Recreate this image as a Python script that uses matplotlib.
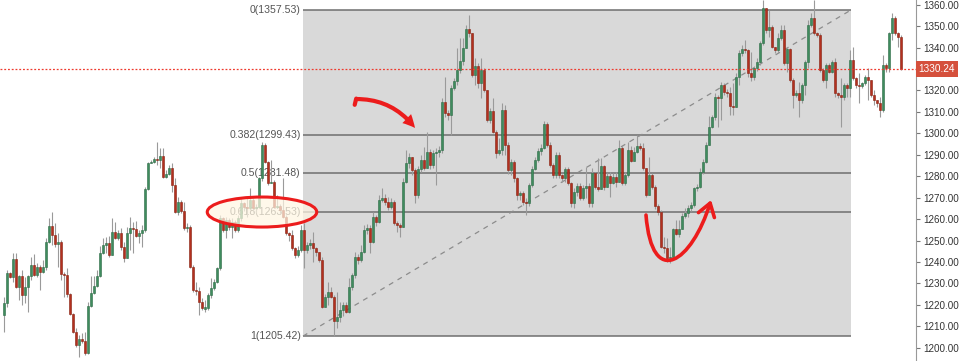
import numpy as np
import matplotlib
matplotlib.use("Agg")
import matplotlib.pyplot as plt
from matplotlib.patches import Ellipse, Rectangle, FancyArrowPatch
from matplotlib.path import Path
from matplotlib.ticker import FuncFormatter

plt.rcParams['font.family'] = ['Liberation Sans', 'DejaVu Sans']

# Candle data (open of each bar = close of previous bar)
first_open = 1215.3
closes = [
    1220.7, 1235.0, 1233.2, 1241.2, 1228.2, 1233.5, 1224.6, 1228.5, 1233.5, 1238.6,
    1233.9, 1237.5, 1235.5, 1237.5, 1249.5, 1256.8, 1252.6, 1248.4, 1249.5, 1234.4,
    1233.9, 1225.1, 1215.7, 1207.5, 1201.3, 1203.9, 1203.3, 1197.4, 1219.5, 1225.7,
    1228.8, 1233.5, 1244.0, 1247.9, 1249.0, 1243.3, 1254.1, 1251.0, 1253.4, 1247.1,
    1241.7, 1253.4, 1255.7, 1255.2, 1252.1, 1253.7, 1254.9, 1273.9, 1286.3, 1286.8,
    1288.0, 1287.6, 1289.6, 1279.8, 1280.9, 1284.0, 1275.9, 1263.5, 1268.1, 1263.8,
    1255.7, 1256.3, 1237.8, 1226.9, 1226.5, 1221.5, 1218.4, 1218.7, 1224.6, 1227.7,
    1230.8, 1237.0, 1260.4, 1254.9, 1259.6, 1256.5, 1258.5, 1254.9, 1260.4, 1267.4,
    1265.8, 1265.3, 1268.9, 1265.0, 1265.8, 1279.0, 1294.6, 1286.8, 1276.7, 1277.5,
    1265.8, 1266.3, 1264.2, 1261.1, 1253.4, 1252.6, 1246.4, 1243.2, 1245.6, 1254.9,
    1245.6, 1247.9, 1248.7, 1246.4, 1244.8, 1240.9, 1219.2, 1223.8, 1226.2, 1223.8,
    1212.5, 1214.5, 1217.6, 1219.9, 1216.8, 1228.5, 1233.9, 1242.5, 1240.9, 1244.8,
    1254.9, 1255.7, 1249.5, 1261.1, 1258.8, 1268.9, 1269.7, 1268.1, 1265.8, 1268.1,
    1258.0, 1257.2, 1256.5, 1277.5, 1286.0, 1289.1, 1282.9, 1271.2, 1283.4, 1287.6,
    1283.7, 1291.5, 1285.2, 1290.7, 1291.5, 1292.2, 1314.8, 1309.3, 1308.6, 1321.0,
    1324.5, 1329.5, 1333.7, 1339.7, 1348.7, 1346.6, 1327.2, 1331.6, 1323.3, 1329.5,
    1320.2, 1306.2, 1310.4, 1300.8, 1290.7, 1292.2, 1310.9, 1294.6, 1282.9, 1286.8,
    1279.0, 1271.2, 1272.0, 1268.1, 1267.4, 1275.9, 1283.4, 1287.6, 1291.8, 1293.3,
    1304.2, 1294.6, 1285.2, 1280.6, 1289.9, 1280.6, 1279.0, 1283.4, 1276.7, 1267.4,
    1272.8, 1275.6, 1270.0, 1274.7, 1275.6, 1267.4, 1281.3, 1275.1, 1274.0, 1284.9,
    1275.1, 1280.1, 1277.0, 1279.8, 1277.5, 1293.0, 1276.7, 1280.6, 1292.2, 1287.2,
    1291.4, 1294.1, 1293.0, 1283.7, 1271.2, 1280.6, 1275.1, 1266.1, 1263.5, 1247.1,
    1246.4, 1241.7, 1242.5, 1255.2, 1253.0, 1255.2, 1261.4, 1262.7, 1265.0, 1266.6,
    1274.4, 1275.1, 1282.1, 1286.8, 1294.6, 1302.8, 1307.5, 1317.1, 1316.3, 1322.5,
    1319.4, 1318.7, 1312.8, 1312.4, 1326.4, 1337.3, 1339.2, 1338.9, 1328.0, 1326.4,
    1330.3, 1333.4, 1342.0, 1358.3, 1348.2, 1349.8, 1340.4, 1338.9, 1344.3, 1348.2,
    1332.7, 1339.2, 1324.9, 1317.9, 1318.7, 1315.5, 1322.5, 1333.4, 1350.5, 1353.6,
    1346.6, 1345.9, 1329.5, 1324.9, 1331.9, 1328.8, 1333.4, 1318.7, 1317.9, 1317.1,
    1322.5, 1321.0, 1334.2, 1325.7, 1322.5, 1322.1, 1323.3, 1326.1, 1324.9, 1317.9,
    1315.5, 1314.3, 1310.9, 1331.9, 1330.3, 1346.6, 1353.6, 1346.6, 1344.8, 1330.24,
]
highs = [
    1223.8, 1236.2, 1235.5, 1244.3, 1244.3, 1233.9, 1236.2, 1233.2, 1233.9, 1242.5,
    1243.7, 1239.4, 1238.6, 1240.9, 1251.0, 1260.4, 1263.5, 1258.3, 1253.4, 1250.2,
    1235.5, 1237.0, 1225.4, 1216.0, 1209.1, 1206.0, 1207.0, 1207.5, 1221.5, 1233.5,
    1233.5, 1236.2, 1247.5, 1251.0, 1251.5, 1252.1, 1260.4, 1258.8, 1254.9, 1255.7,
    1249.5, 1256.5, 1261.1, 1258.8, 1259.3, 1254.9, 1257.2, 1275.1, 1286.8, 1287.6,
    1289.1, 1296.1, 1293.0, 1293.0, 1282.9, 1285.2, 1286.0, 1279.0, 1270.5, 1268.9,
    1268.1, 1258.0, 1257.3, 1238.6, 1230.8, 1228.5, 1223.0, 1222.3, 1225.5, 1232.4,
    1232.0, 1237.8, 1261.9, 1261.0, 1261.1, 1260.5, 1260.4, 1259.6, 1262.0, 1270.5,
    1268.0, 1270.5, 1274.3, 1269.7, 1267.0, 1279.8, 1296.1, 1295.5, 1287.0, 1287.6,
    1278.2, 1271.2, 1267.0, 1279.0, 1261.9, 1254.0, 1254.9, 1247.0, 1247.5, 1257.3,
    1258.0, 1249.5, 1250.5, 1254.1, 1247.0, 1243.3, 1242.5, 1225.0, 1230.8, 1228.5,
    1224.5, 1226.2, 1221.5, 1221.5, 1221.5, 1232.4, 1235.0, 1244.8, 1243.5, 1247.9,
    1257.3, 1257.5, 1257.3, 1263.5, 1262.0, 1271.2, 1274.4, 1271.5, 1270.5, 1270.0,
    1268.9, 1259.0, 1258.0, 1279.0, 1292.2, 1291.0, 1289.1, 1283.7, 1285.0, 1290.0,
    1293.8, 1300.8, 1292.5, 1292.0, 1293.0, 1294.0, 1316.5, 1326.4, 1311.0, 1322.5,
    1326.0, 1339.7, 1344.3, 1344.3, 1350.5, 1355.2, 1346.6, 1335.0, 1332.7, 1335.0,
    1330.3, 1320.2, 1311.7, 1316.3, 1301.6, 1297.7, 1314.0, 1313.2, 1296.0, 1288.0,
    1287.5, 1279.8, 1273.0, 1273.0, 1270.0, 1276.7, 1285.0, 1289.0, 1293.0, 1295.0,
    1305.8, 1305.4, 1296.1, 1286.0, 1291.4, 1291.4, 1281.0, 1284.5, 1284.5, 1277.5,
    1274.4, 1277.0, 1276.7, 1276.0, 1284.5, 1276.7, 1283.7, 1282.0, 1288.3, 1288.3,
    1285.2, 1281.3, 1282.1, 1281.3, 1282.1, 1296.9, 1294.6, 1282.0, 1296.1, 1294.1,
    1293.8, 1299.2, 1295.3, 1295.3, 1283.7, 1289.1, 1281.3, 1276.0, 1267.0, 1264.2,
    1251.8, 1251.0, 1247.1, 1256.0, 1259.6, 1259.6, 1262.7, 1265.0, 1266.6, 1268.0,
    1275.1, 1276.5, 1283.7, 1288.0, 1296.0, 1308.1, 1308.6, 1318.7, 1317.9, 1324.1,
    1323.3, 1320.5, 1321.8, 1323.3, 1328.0, 1338.9, 1341.0, 1343.5, 1339.5, 1338.1,
    1331.5, 1335.0, 1343.0, 1362.0, 1358.5, 1357.5, 1350.5, 1340.4, 1346.6, 1350.5,
    1350.5, 1340.4, 1339.6, 1325.7, 1320.2, 1324.1, 1323.3, 1334.2, 1352.9, 1356.0,
    1362.0, 1347.4, 1346.6, 1330.3, 1332.7, 1332.7, 1334.2, 1335.0, 1319.4, 1325.7,
    1323.3, 1323.3, 1338.9, 1340.4, 1326.1, 1328.0, 1324.1, 1327.0, 1330.3, 1324.9,
    1320.2, 1315.5, 1317.1, 1336.5, 1332.7, 1347.4, 1356.0, 1354.5, 1347.4, 1345.9,
]
lows = [
    1207.5, 1219.2, 1232.4, 1230.8, 1227.7, 1222.2, 1219.9, 1220.7, 1216.8, 1231.6,
    1233.5, 1233.2, 1226.9, 1234.7, 1236.2, 1248.7, 1247.9, 1247.1, 1237.8, 1231.6,
    1223.8, 1223.8, 1215.3, 1207.0, 1200.5, 1195.8, 1202.1, 1196.6, 1197.1, 1219.2,
    1225.1, 1228.5, 1233.2, 1243.7, 1244.0, 1242.5, 1244.0, 1250.6, 1250.2, 1245.6,
    1240.1, 1247.9, 1245.6, 1244.0, 1251.5, 1248.7, 1247.1, 1254.1, 1273.6, 1286.0,
    1286.0, 1285.2, 1283.7, 1279.3, 1279.0, 1280.6, 1272.8, 1262.7, 1261.9, 1262.7,
    1254.9, 1254.1, 1237.0, 1226.2, 1224.6, 1215.3, 1217.6, 1216.8, 1217.5, 1223.0,
    1226.9, 1230.0, 1236.2, 1254.1, 1251.0, 1255.0, 1251.0, 1254.1, 1254.0, 1259.0,
    1264.0, 1261.1, 1264.2, 1263.5, 1263.0, 1265.0, 1278.0, 1286.0, 1276.0, 1276.7,
    1265.0, 1265.0, 1263.0, 1260.4, 1252.6, 1250.0, 1245.6, 1241.7, 1242.5, 1244.8,
    1237.0, 1244.0, 1246.0, 1240.1, 1243.0, 1240.1, 1218.4, 1219.9, 1219.9, 1223.0,
    1205.4, 1209.1, 1212.2, 1215.0, 1216.0, 1216.0, 1227.0, 1232.4, 1239.0, 1240.1,
    1244.0, 1253.0, 1244.0, 1248.7, 1257.0, 1258.0, 1268.1, 1266.5, 1264.2, 1264.5,
    1257.3, 1254.0, 1251.8, 1260.4, 1276.7, 1284.0, 1280.6, 1267.4, 1270.0, 1282.0,
    1282.9, 1283.7, 1283.5, 1284.0, 1275.9, 1289.0, 1290.7, 1307.5, 1306.0, 1299.2,
    1320.0, 1322.5, 1328.0, 1331.9, 1339.7, 1345.0, 1326.4, 1322.5, 1321.0, 1316.3,
    1319.4, 1305.4, 1304.7, 1300.0, 1288.3, 1289.9, 1289.9, 1289.9, 1281.0, 1280.6,
    1277.5, 1268.9, 1268.9, 1266.5, 1261.9, 1266.0, 1275.0, 1283.0, 1286.5, 1290.0,
    1292.5, 1293.5, 1284.5, 1279.0, 1279.0, 1279.0, 1277.5, 1277.5, 1275.9, 1265.8,
    1265.0, 1271.0, 1268.9, 1269.0, 1269.7, 1265.8, 1265.8, 1274.0, 1273.0, 1282.1,
    1273.5, 1277.0, 1270.5, 1276.5, 1275.1, 1277.5, 1275.9, 1275.9, 1279.8, 1286.5,
    1287.6, 1290.7, 1292.0, 1282.9, 1270.5, 1273.6, 1274.0, 1264.8, 1262.0, 1246.4,
    1244.0, 1240.1, 1239.7, 1242.5, 1252.6, 1251.8, 1255.7, 1260.4, 1261.1, 1264.0,
    1265.8, 1273.0, 1274.4, 1281.0, 1286.0, 1301.6, 1302.3, 1306.2, 1303.1, 1306.2,
    1318.0, 1317.0, 1308.6, 1308.6, 1315.6, 1322.5, 1336.0, 1337.5, 1326.4, 1324.5,
    1325.0, 1329.0, 1332.0, 1341.3, 1347.0, 1345.1, 1339.6, 1337.3, 1337.3, 1343.5,
    1331.9, 1328.8, 1324.1, 1311.7, 1317.1, 1307.8, 1314.0, 1317.9, 1330.3, 1349.8,
    1345.9, 1345.1, 1328.8, 1324.1, 1321.0, 1328.0, 1328.0, 1317.1, 1316.3, 1303.1,
    1315.5, 1317.1, 1317.1, 1324.9, 1321.0, 1314.0, 1321.0, 1322.5, 1315.5, 1317.1,
    1313.2, 1312.5, 1307.8, 1310.1, 1328.8, 1328.8, 1343.5, 1345.9, 1340.4, 1329.5,
]

# Fibonacci retracement
fib_levels = ['0', '0.382', '0.5', '0.618', '1']
fib_prices = [1357.53, 1299.43, 1281.48, 1263.53, 1205.42]
fib_x0, fib_x1 = 99.67, 282.33      # bar positions of the fib box
last_price = 1330.24

# colours
green, green_edge = '#3f8c5e', '#2c6a45'
red, red_edge = '#b3301f', '#87200f'
mark = '#ec1c1c'

closes = np.array(closes)
highs = np.array(highs)
lows = np.array(lows)
opens = np.r_[first_open, closes[:-1]]
highs = np.maximum(highs, np.maximum(opens, closes))
lows = np.minimum(lows, np.minimum(opens, closes))
x = np.arange(len(closes))
up = closes >= opens

fig = plt.figure(figsize=(9.6, 3.61), dpi=100)
ax = fig.add_axes([0, 0, 916 / 960, 1])
ax.set_xlim(-4 / 3, 304)
ax.set_ylim(1193.82, 1362.19)

# fib box, levels, labels, diagonal
ax.add_patch(Rectangle((fib_x0, fib_prices[-1]), fib_x1 - fib_x0,
                       fib_prices[0] - fib_prices[-1],
                       fc='#d9d9d9', ec='none', zorder=0))
for lvl, p in zip(fib_levels, fib_prices):
    ax.hlines(p, fib_x0, fib_x1, color='#6f6f6f', lw=1.1, zorder=1)
    ax.text(fib_x0 - 0.8, p, f'{lvl}({p:.2f})', ha='right', va='center',
            fontsize=7.6, color='#555555', zorder=1)
ax.plot([fib_x0, fib_x1], [fib_prices[-1], fib_prices[0]],
        ls=(0, (4, 4)), color='#8c8c8c', lw=0.9, zorder=1)

# candles
ax.vlines(x, lows, highs, color='#9a9a9a', lw=0.8, zorder=2)
body = np.abs(closes - opens)
small = body < 0.5
bottom = np.where(small, (opens + closes) / 2 - 0.25, np.minimum(opens, closes))
height = np.where(small, 0.5, body)
ax.bar(x, height, bottom=bottom, width=0.7,
       color=np.where(up, green, red),
       edgecolor=np.where(up, green_edge, red_edge), linewidth=0.4, zorder=3)

# current price line and box
ax.axhline(last_price, color='#ee3a2e', ls=(0, (1.5, 1.5)), lw=0.9, zorder=6)
ax.text(1.003, last_price, f'{last_price:.2f}', transform=ax.get_yaxis_transform(),
        ha='left', va='center', fontsize=7.2, color='white', zorder=10, clip_on=False,
        bbox=dict(boxstyle='square,pad=0.3', fc='#d5503c', ec='none'))

# hand-drawn marks
ax.add_patch(Ellipse((86, 1263.3), 36.5, 14, fc=(1.0, 0.965, 0.89, 0.72),
                     ec=mark, lw=2.2, zorder=7))
ax.add_patch(FancyArrowPatch((117.3, 1316.0), (137.0, 1302.5),
                             connectionstyle='arc3,rad=-0.25',
                             arrowstyle='simple,head_length=9,head_width=9,tail_width=3',
                             mutation_scale=1, shrinkA=0, shrinkB=0,
                             color=mark, lw=0, zorder=8))
ax.plot([117.4, 116.9], [1316.2, 1313.3], color=mark, lw=3, solid_capstyle='round', zorder=8)
u_path = Path([(214, 1261.9), (216, 1226.9), (229.3, 1240.0), (235.7, 1268.9)],
              [Path.MOVETO, Path.CURVE4, Path.CURVE4, Path.CURVE4])
ax.add_patch(FancyArrowPatch(path=u_path, arrowstyle='->,head_length=0.45,head_width=0.3',
                             mutation_scale=20, color=mark, lw=2.6, zorder=8))


# right price axis; the 1330 label sits under the price box
def price_label(v, pos):
    if abs(v - 1330) < 1e-6:
        return ''
    return f'{v:.2f}'


ax.yaxis.tick_right()
ax.set_yticks(np.arange(1200, 1361, 10))
ax.yaxis.set_major_formatter(FuncFormatter(price_label))
ax.tick_params(axis='y', length=3, width=0.8, color='#777777', labelsize=7.1,
               labelcolor='#333333', pad=2)
ax.set_xticks([])
for s in ['top', 'bottom', 'left']:
    ax.spines[s].set_visible(False)
ax.spines['right'].set_color('#999999')

fig.savefig('out.png', dpi=100)
